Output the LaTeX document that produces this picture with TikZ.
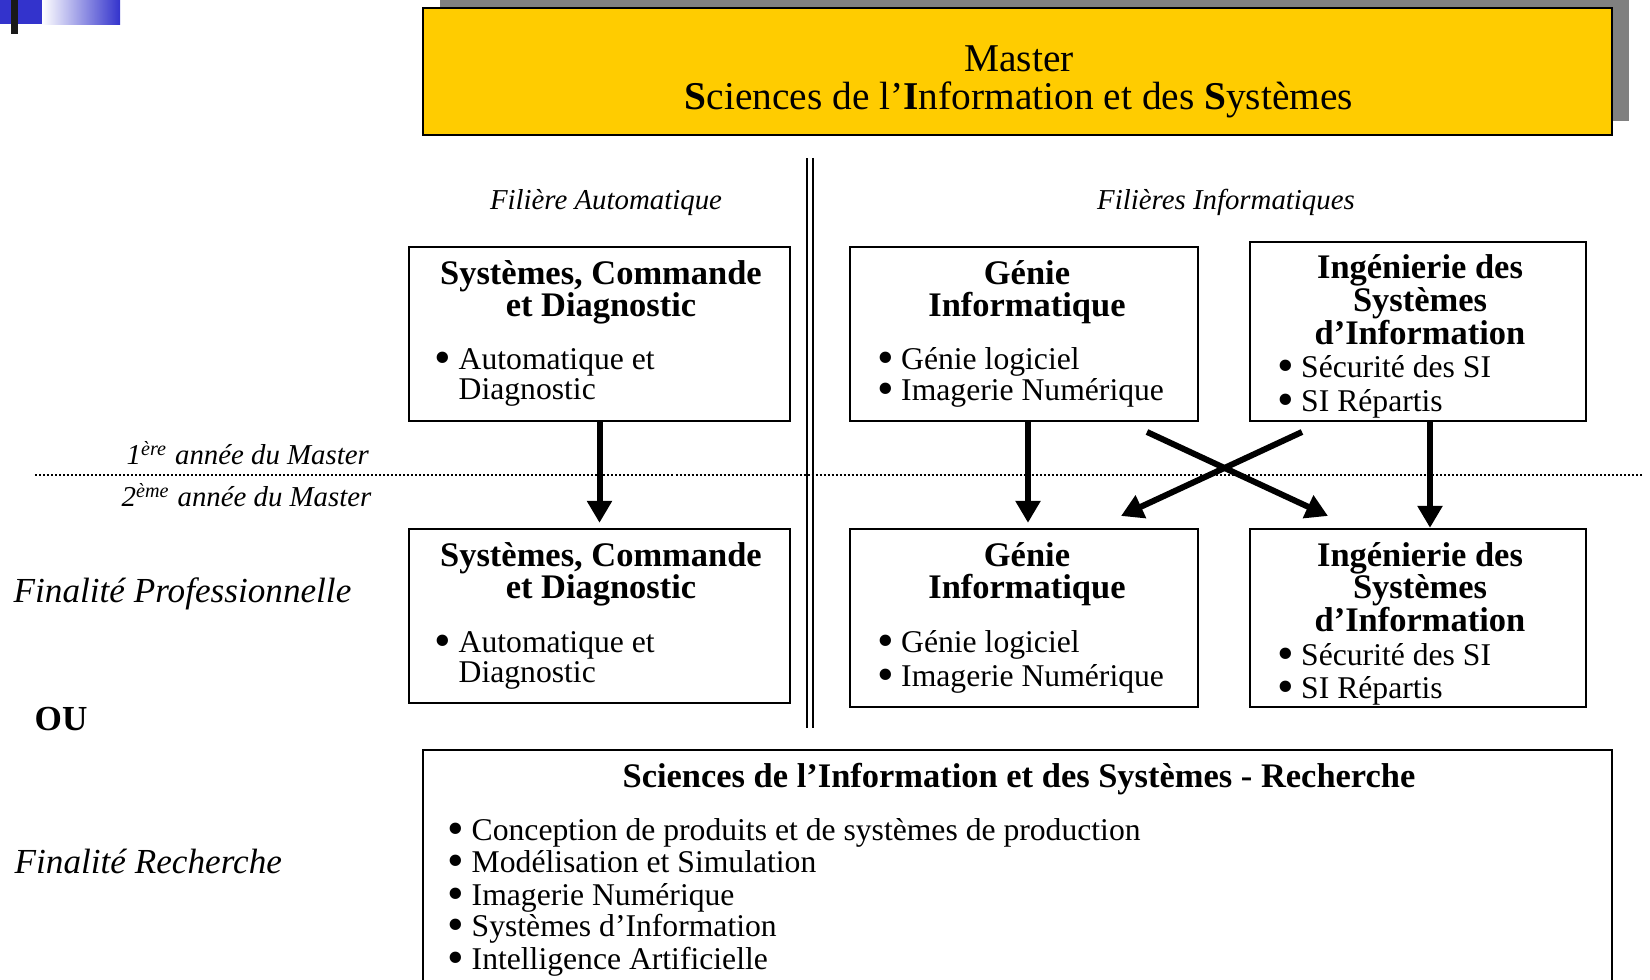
\documentclass[tikz,border=0pt]{standalone}
\usepackage{fontspec}
\setmainfont{Liberation Serif}
\usetikzlibrary{arrows.meta}

\definecolor{decoblue}{RGB}{51,51,204}
\definecolor{masteryellow}{RGB}{255,204,0}
\definecolor{shadowgray}{RGB}{128,128,128}

\tikzset{
  box/.style={draw, line width=0.022cm, inner sep=0pt},
  titre/.style={font=\fontsize{11.2}{11.2}\selectfont, anchor=base, inner sep=0pt},
  head/.style={font=\fontsize{9.8}{9.8}\selectfont\bfseries, anchor=base, inner sep=0pt},
  item/.style={font=\fontsize{9}{9}\selectfont, anchor=base west, inner sep=0pt},
  filiere/.style={font=\fontsize{8.2}{8.2}\selectfont\itshape, anchor=base, inner sep=0pt},
  annee/.style={font=\fontsize{8.2}{8.2}\selectfont\itshape, anchor=base west, inner sep=0pt},
  finalite/.style={font=\fontsize{10}{10}\selectfont\itshape, anchor=base west, inner sep=0pt},
  arr/.style={line width=0.06cm, -{Triangle[length=0.22cm,width=0.24cm]}},
}
\newcommand{\bul}{\makebox[0.24cm][l]{\raisebox{-0.1em}{\scalebox{1.5}{\textbullet}}}}

\begin{document}
\begin{tikzpicture}[x=0.01cm,y=-0.01cm]
\useasboundingbox (0,0) rectangle (1650,980);
\clip (0,0) rectangle (1650,980);

% corner mark
\fill[decoblue] (0,0) rectangle (42,24);
\shade[left color=white, right color=decoblue] (42,0) rectangle (120,25);
\fill[black!90] (11,0) rectangle (18,34);

% title
\fill[shadowgray] (440,-6) rectangle (1629,121);
\node[box, fill=masteryellow, minimum width=11.89cm, minimum height=1.27cm] (master) at (1017.5,71.5) {};
\node[titre] (mst1) at (1019,72) {Master};
\node[titre] (mst2) at (1019,110) {\textbf{S}ciences de l’\textbf{I}nformation et des \textbf{S}ystèmes};

% separators
\draw[double, double distance=0.035cm, line width=0.025cm] (810,158) -- (810,728);
\draw[line width=0.025cm, dash pattern=on 0.02cm off 0.02cm] (35,475) -- (1642,475);

\node[filiere] (filA) at (606,210) {Filière Automatique};
\node[filiere] (filI) at (1226,210) {Filières Informatiques};

\node[annee] (an1) at (126,465) {1\textsuperscript{ère} année du Master};
\node[annee] (an2) at (121,507) {2\textsuperscript{ème} année du Master};
\node[finalite] (finP) at (13,603) {Finalité Professionnelle};
\node[finalite, font=\fontsize{10}{10}\selectfont\bfseries] (ou) at (34,731) {OU};
\node[finalite] (finR) at (14,874) {Finalité Recherche};

%-------------------------------------
% 1ere annee
\node[box, minimum width=3.81cm, minimum height=1.74cm] (scdA) at (599.5,334) {};
\node[head] (scdA1) at (601,285) {Systèmes, Commande};
\node[head] (scdA2) at (601,317) {et Diagnostic};
\node[item] (scdA3) at (434,370) {\bul Automatique et};
\node[item] (scdA4) at (458,400) {Diagnostic};

\node[box, minimum width=3.48cm, minimum height=1.74cm] (giA) at (1024,334) {};
\node[head] (giA1) at (1027,285) {Génie};
\node[head] (giA2) at (1027,317) {Informatique};
\node[item] (giA3) at (876.5,370) {\bul Génie logiciel};
\node[item] (giA4) at (876.5,401) {\bul Imagerie Numérique};

\node[box, minimum width=3.36cm, minimum height=1.79cm] (isiA) at (1418,331.5) {};
\node[head] (isiA1) at (1420,279) {Ingénierie des};
\node[head] (isiA2) at (1420,312) {Systèmes};
\node[head] (isiA3) at (1420,345) {d’Information};
\node[item] (isiA4) at (1276.5,378) {\bul Sécurité des SI};
\node[item] (isiA5) at (1276.5,412) {\bul SI Répartis};

%-------------------------------------
% 2eme annee
\node[box, minimum width=3.81cm, minimum height=1.74cm] (scdB) at (599.5,616) {};
\node[head] (scdB1) at (601,567) {Systèmes, Commande};
\node[head] (scdB2) at (601,599) {et Diagnostic};
\node[item] (scdB3) at (434,653) {\bul Automatique et};
\node[item] (scdB4) at (458,683) {Diagnostic};

\node[box, minimum width=3.48cm, minimum height=1.78cm] (giB) at (1024,618) {};
\node[head] (giB1) at (1027,567) {Génie};
\node[head] (giB2) at (1027,599) {Informatique};
\node[item] (giB3) at (876.5,653) {\bul Génie logiciel};
\node[item] (giB4) at (876.5,687) {\bul Imagerie Numérique};

\node[box, minimum width=3.36cm, minimum height=1.78cm] (isiB) at (1418,618) {};
\node[head] (isiB1) at (1420,567) {Ingénierie des};
\node[head] (isiB2) at (1420,599) {Systèmes};
\node[head] (isiB3) at (1420,632) {d’Information};
\node[item] (isiB4) at (1276.5,666) {\bul Sécurité des SI};
\node[item] (isiB5) at (1276.5,699) {\bul SI Répartis};

% passages
\draw[arr, shorten >=0.05cm] (scdA.south) -- (scdB.north);
\draw[arr, shorten >=0.05cm] ([xshift=0.04cm]giA.south) -- ([xshift=0.04cm]giB.north);
\draw[arr] ([xshift=0.12cm]isiA.south) -- ([xshift=0.12cm]isiB.north);
\coordinate (giOut) at (1147,432);
\coordinate (isiIn) at (1328,516);
\coordinate (isiOut) at (1302,432);
\coordinate (giIn) at (1121,516);
\draw[arr] (giOut) -- (isiIn);
\draw[arr] (isiOut) -- (giIn);

%-------------------------------------
% recherche
\node[box, minimum width=11.89cm, minimum height=2.6cm] (rech) at (1017.5,880) {};
\node[head] (rech1) at (1019,788) {Sciences de l’Information et des Systèmes - Recherche};
\node[item] (rech2) at (447,841) {\bul Conception de produits et de systèmes de production};
\node[item] (rech3) at (447,873) {\bul Modélisation et Simulation};
\node[item] (rech4) at (447,906) {\bul Imagerie Numérique};
\node[item] (rech5) at (447,937) {\bul Systèmes d’Information};
\node[item] (rech6) at (447,970) {\bul Intelligence Artificielle};
\end{tikzpicture}
\end{document}
